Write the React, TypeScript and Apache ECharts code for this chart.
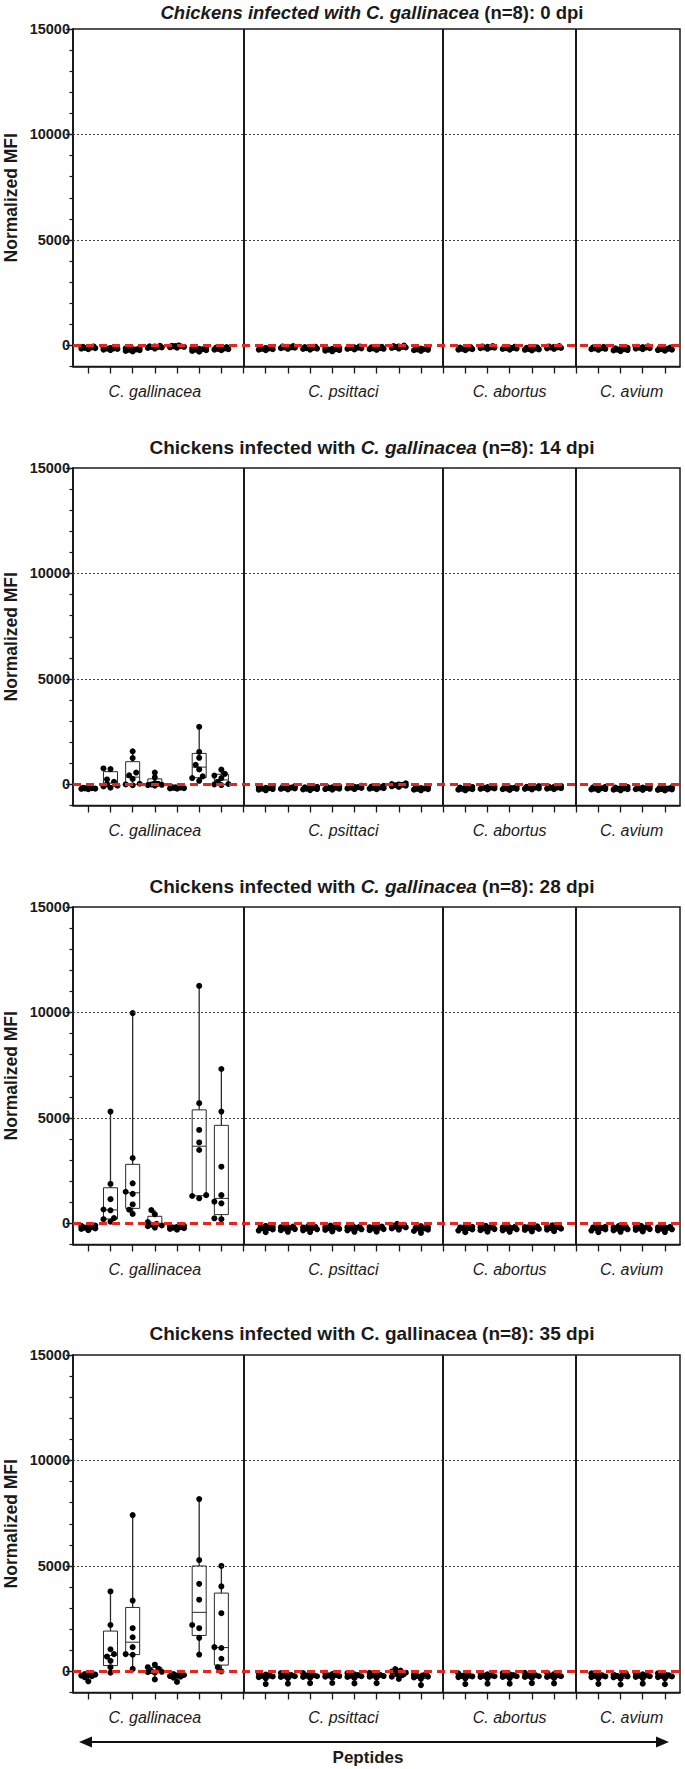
import React, { useEffect, useRef } from "react";
import * as echarts from "echarts";

// ---------------- data ----------------
const GROUP_NAMES = ["C. gallinacea", "C. psittaci", "C. abortus", "C. avium"];
const DPI_VALUES = ["0", "14", "28", "35"];
const TITLE_PREFIX = "Chickens infected with ";
const TITLE_SPECIES = "C. gallinacea";
const TITLE_N = "(n=8)";
const Y_LABEL_VALUES = [0, 5000, 10000, 15000];
const DOTTED_GRID_VALUES = [5000, 10000];
const BASELINE_VALUE = 0;
const Y_MIN = -1000;
const Y_MAX = 15000;
const Y_NAME = "Normalized MFI";
const X_NAME = "Peptides";

// 0 dpi
const dpi0Gallinacea = [
  [-180, -150, -130, -120, -100, -90, -70, -50],
  [-220, -200, -170, -150, -140, -120, -100, -80],
  [-290, -260, -230, -210, -190, -170, -140, -110],
  [-150, -120, -100, -80, -70, -50, -40, -20],
  [-110, -90, -70, -50, -40, -30, -20, 0],
  [-300, -260, -230, -200, -180, -160, -140, -110],
  [-230, -200, -180, -160, -140, -120, -100, -80],
];
const dpi0Psittaci = [
  [-230, -200, -180, -160, -140, -120, -100, -80],
  [-160, -130, -110, -100, -90, -70, -50, -30],
  [-200, -170, -150, -130, -120, -100, -80, -60],
  [-280, -250, -220, -200, -180, -160, -140, -110],
  [-190, -160, -140, -120, -110, -90, -70, -50],
  [-210, -180, -160, -140, -130, -110, -90, -70],
  [-150, -120, -100, -80, -70, -50, -30, -10],
  [-260, -230, -210, -190, -170, -150, -130, -100],
];
const dpi0Abortus = [
  [-230, -200, -180, -160, -140, -120, -100, -80],
  [-160, -130, -110, -100, -90, -70, -50, -30],
  [-200, -170, -150, -130, -120, -100, -80, -60],
  [-240, -210, -190, -170, -150, -130, -110, -90],
  [-170, -140, -120, -100, -90, -70, -50, -30],
];
const dpi0Avium = [
  [-210, -180, -160, -140, -130, -110, -90, -70],
  [-270, -240, -220, -200, -180, -160, -140, -110],
  [-180, -150, -130, -110, -100, -80, -60, -40],
  [-250, -220, -200, -180, -160, -140, -120, -100],
];

// 14 dpi
const dpi14Gallinacea = [
  [-230, -210, -200, -190, -180, -170, -160, -140],
  [-158, -95, -63, 0, 126, 237, 725, 757],
  [-40, 0, 30, 260, 430, 560, 1250, 1570],
  [-60, -30, -20, 0, 30, 60, 330, 560],
  [-200, -190, -180, -160, -150, -140, -130, -110],
  [170, 300, 380, 710, 930, 1260, 1540, 2730],
  [-30, 0, 20, 120, 300, 420, 500, 700],
];
const dpi14Psittaci = [
  [-280, -250, -220, -200, -180, -160, -130, -100],
  [-240, -210, -190, -170, -150, -130, -110, -80],
  [-270, -240, -220, -200, -180, -160, -140, -110],
  [-250, -220, -200, -180, -160, -140, -120, -90],
  [-220, -190, -170, -150, -130, -110, -90, -60],
  [-230, -200, -180, -160, -140, -120, -100, -70],
  [-120, -90, -60, -40, -20, 0, 20, 50],
  [-280, -250, -230, -210, -190, -170, -150, -120],
];
const dpi14Abortus = [
  [-280, -250, -230, -210, -190, -170, -150, -120],
  [-240, -210, -190, -170, -150, -130, -110, -80],
  [-260, -230, -210, -190, -170, -150, -130, -100],
  [-240, -210, -190, -170, -150, -130, -110, -80],
  [-230, -200, -180, -160, -140, -120, -100, -70],
];
const dpi14Avium = [
  [-270, -240, -220, -200, -180, -160, -140, -110],
  [-280, -250, -230, -210, -190, -170, -150, -120],
  [-260, -230, -210, -190, -170, -150, -130, -100],
  [-290, -260, -240, -220, -200, -180, -160, -130],
];

// 28 dpi
const dpi28Gallinacea = [
  [-320, -260, -240, -200, -180, -150, -120, -100],
  [80, 200, 250, 620, 660, 1150, 1870, 5300],
  [450, 650, 900, 1400, 1500, 1900, 3100, 9970],
  [-200, -130, -100, -60, -20, 60, 430, 630],
  [-300, -260, -230, -200, -180, -160, -140, -110],
  [1190, 1300, 1340, 3480, 3840, 4430, 5700, 11260],
  [200, 240, 950, 1030, 1340, 2690, 5300, 7320],
];
const dpi28Psittaci = [
  [-420, -340, -290, -250, -220, -190, -160, -120],
  [-400, -320, -270, -240, -210, -180, -150, -110],
  [-410, -330, -280, -250, -220, -190, -160, -120],
  [-380, -310, -260, -230, -200, -170, -140, -100],
  [-400, -330, -280, -240, -210, -180, -150, -110],
  [-390, -320, -270, -240, -210, -180, -150, -110],
  [-300, -240, -190, -150, -120, -90, -60, -20],
  [-450, -360, -300, -260, -230, -200, -170, -130],
];
const dpi28Abortus = [
  [-420, -340, -290, -250, -220, -190, -160, -120],
  [-390, -320, -270, -240, -210, -180, -150, -110],
  [-400, -330, -280, -250, -220, -190, -160, -120],
  [-380, -310, -260, -230, -200, -170, -140, -100],
  [-370, -300, -250, -220, -190, -160, -130, -90],
];
const dpi28Avium = [
  [-420, -340, -290, -250, -220, -190, -160, -120],
  [-400, -330, -280, -250, -220, -190, -160, -120],
  [-380, -310, -270, -240, -210, -180, -150, -110],
  [-410, -330, -280, -250, -220, -190, -160, -120],
];

// 35 dpi
const dpi35Gallinacea = [
  [-470, -280, -230, -200, -170, -150, -130, -80],
  [-60, 200, 500, 700, 820, 1050, 2200, 3790],
  [120, 790, 820, 1150, 1620, 2050, 3360, 7410],
  [-380, -60, -30, -20, 20, 130, 200, 320],
  [-500, -300, -250, -220, -200, -170, -130, -60],
  [800, 1590, 2050, 2200, 3400, 4150, 5280, 8170],
  [0, 200, 600, 1110, 1150, 2760, 4030, 5000],
];
const dpi35Psittaci = [
  [-600, -330, -270, -240, -210, -180, -150, -90],
  [-580, -320, -260, -230, -200, -170, -140, -80],
  [-560, -310, -260, -230, -200, -170, -140, -80],
  [-550, -300, -250, -220, -190, -160, -130, -70],
  [-570, -310, -260, -230, -200, -170, -140, -80],
  [-560, -300, -250, -220, -190, -160, -130, -70],
  [-360, -250, -180, -120, -60, -10, 40, 110],
  [-650, -350, -290, -250, -220, -190, -160, -100],
];
const dpi35Abortus = [
  [-600, -330, -270, -240, -210, -180, -150, -90],
  [-580, -320, -260, -230, -200, -170, -140, -80],
  [-580, -320, -260, -230, -200, -170, -140, -80],
  [-560, -310, -260, -230, -200, -170, -140, -70],
  [-570, -310, -260, -230, -200, -170, -130, -60],
];
const dpi35Avium = [
  [-590, -330, -270, -240, -210, -180, -150, -90],
  [-620, -340, -280, -240, -210, -180, -150, -90],
  [-580, -320, -260, -230, -200, -170, -140, -80],
  [-610, -330, -270, -240, -210, -180, -150, -90],
];

const PANELS = [
  [dpi0Gallinacea, dpi0Psittaci, dpi0Abortus, dpi0Avium],
  [dpi14Gallinacea, dpi14Psittaci, dpi14Abortus, dpi14Avium],
  [dpi28Gallinacea, dpi28Psittaci, dpi28Abortus, dpi28Avium],
  [dpi35Gallinacea, dpi35Psittaci, dpi35Abortus, dpi35Avium],
];

// ---------------- layout / style ----------------
const FONT = "'Liberation Sans', Arial, Helvetica, sans-serif";
const INK = "#1a1a1a";
const PLOT_LEFT = 73;
const PLOT_RIGHT = 680;
const PANEL_TOPS = [29, 468, 907, 1355];
const PLOT_H = 337.5;
const X_MIN = 0.31;
const X_MAX = 27.68;
const TITLE_Y = [12, 447, 886, 1333.5];
const TITLE_X = 372;
// title italic style per panel: 0 = prefix+species italic, 1 = species italic, 2 = none
const TITLE_ITALIC_MODE = [0, 1, 1, 2];
const TITLE_SIZES = [18.5, 19, 19, 19];
const Y_NAME_X = 11;

const PX_PER_X = (PLOT_RIGHT - PLOT_LEFT) / (X_MAX - X_MIN);
const PX_PER_Y = PLOT_H / (Y_MAX - Y_MIN);

function quantile(sorted: number[], p: number) {
  const n = sorted.length;
  const h = (n + 1) * p;
  const lo = Math.floor(h);
  const f = h - lo;
  if (lo < 1) return sorted[0];
  if (lo >= n) return sorted[n - 1];
  return sorted[lo - 1] + f * (sorted[lo] - sorted[lo - 1]);
}

function swarmOffsets(values: number[]): number[] {
  const order = values.map((_, i) => i).sort((a, b) => values[a] - values[b]);
  const cands = [0, -3.5, 3.5, -7, 7, -1.75, 1.75, -5.25, 5.25];
  const placed: { x: number; y: number }[] = [];
  const out = new Array(values.length).fill(0);
  for (const idx of order) {
    const y = values[idx] * PX_PER_Y;
    let best = 0;
    let bestD = -1;
    for (const c of cands) {
      let d = Infinity;
      for (const p of placed) d = Math.min(d, Math.hypot(p.x - c, p.y - y));
      if (d >= 4.8) {
        best = c;
        bestD = d;
        break;
      }
      if (d > bestD) {
        bestD = d;
        best = c;
      }
    }
    placed.push({ x: best, y });
    out[idx] = best;
  }
  return out;
}

function buildOption() {
  // peptide positions: groups separated by one empty slot
  const positions: number[][] = [];
  const separators: number[] = [];
  let pos = 1;
  PANELS[0].forEach((g, gi) => {
    positions.push(g.map(() => pos++));
    if (gi < PANELS[0].length - 1) separators.push(pos);
    pos++;
  });
  const tickValues: number[] = [];
  for (let i = 1; i < pos - 1; i++) tickValues.push(i);
  const centers = positions.map((p) => (p[0] + p[p.length - 1]) / 2);

  const grid: any[] = [];
  const xAxis: any[] = [];
  const yAxis: any[] = [];
  const series: any[] = [];
  const graphic: any[] = [];

  PANELS.forEach((panel, k) => {
    grid.push({
      left: PLOT_LEFT,
      top: PANEL_TOPS[k],
      width: PLOT_RIGHT - PLOT_LEFT,
      height: PLOT_H,
      show: true,
      borderColor: INK,
      borderWidth: 1.5,
      backgroundColor: "transparent",
    });
    xAxis.push({
      type: "value",
      gridIndex: k,
      min: X_MIN,
      max: X_MAX,
      axisLine: { show: true, onZero: false, lineStyle: { color: INK, width: 1.5 } },
      axisTick: { show: true, customValues: tickValues, length: 7, lineStyle: { color: INK, width: 1.3 } },
      axisLabel: {
        customValues: centers,
        formatter: (v: number) => {
          const i = centers.findIndex((c) => Math.abs(c - v) < 0.01);
          return i >= 0 ? GROUP_NAMES[i] : "";
        },
        margin: 17,
        fontFamily: FONT,
        fontSize: 16,
        fontStyle: "italic",
        color: INK,
      },
      splitLine: { show: false },
    });
    // minor ticks axis
    yAxis.push({
      type: "value",
      gridIndex: k,
      min: Y_MIN,
      max: Y_MAX,
      interval: 1000,
      position: "left",
      axisLine: { show: true, onZero: false, lineStyle: { color: INK, width: 1.5 } },
      axisTick: { show: true, length: 3.5, lineStyle: { color: INK, width: 1.2 } },
      axisLabel: { show: false },
      splitLine: { show: false },
    });
    // major ticks + labels axis
    yAxis.push({
      type: "value",
      gridIndex: k,
      min: Y_MIN,
      max: Y_MAX,
      position: "left",
      axisLine: { show: true, onZero: false, lineStyle: { color: INK, width: 1.5 } },
      axisTick: { show: true, customValues: Y_LABEL_VALUES, length: 7, lineStyle: { color: INK, width: 1.3 } },
      axisLabel: {
        customValues: Y_LABEL_VALUES,
        formatter: (v: number) => String(v),
        margin: 3,
        fontFamily: FONT,
        fontSize: 14.5,
        fontWeight: "bold",
        color: INK,
      },
      splitLine: { show: false },
    });

    const boxes: number[][] = [];
    const points: number[][] = [];
    panel.forEach((group, gi) => {
      group.forEach((vals, pi) => {
        const x = positions[gi][pi];
        const s = [...vals].sort((a, b) => a - b);
        boxes.push([x, s[0], quantile(s, 0.25), quantile(s, 0.5), quantile(s, 0.75), s[s.length - 1]]);
        const offs = swarmOffsets(vals);
        vals.forEach((v, i) => points.push([x + offs[i] / PX_PER_X, v]));
      });
    });

    const markData: any[] = [
      ...DOTTED_GRID_VALUES.map((v) => ({
        yAxis: v,
        lineStyle: { color: "#444", width: 1, type: [2, 2] },
      })),
      ...separators.map((v) => ({
        xAxis: v,
        lineStyle: { color: INK, width: 2, type: "solid" },
      })),
    ];

    series.push({
      type: "custom",
      xAxisIndex: k,
      yAxisIndex: 2 * k + 1,
      z: 2,
      data: boxes,
      encode: { x: 0, y: [1, 2, 3, 4, 5] },
      renderItem: (_p: any, api: any) => {
        const x = api.value(0);
        const pMin = api.coord([x, api.value(1)]);
        const pQ1 = api.coord([x, api.value(2)]);
        const pMed = api.coord([x, api.value(3)]);
        const pQ3 = api.coord([x, api.value(4)]);
        const pMax = api.coord([x, api.value(5)]);
        const half = 7;
        const stroke = "#2a2a2a";
        return {
          type: "group",
          children: [
            { type: "line", shape: { x1: pMin[0], y1: pMin[1], x2: pQ1[0], y2: pQ1[1] }, style: { stroke, lineWidth: 1.3 } },
            { type: "line", shape: { x1: pQ3[0], y1: pQ3[1], x2: pMax[0], y2: pMax[1] }, style: { stroke, lineWidth: 1.3 } },
            {
              type: "rect",
              shape: { x: pQ1[0] - half, y: pQ3[1], width: 2 * half, height: Math.max(0.5, pQ1[1] - pQ3[1]) },
              style: { fill: "none", stroke, lineWidth: 1 },
            },
            { type: "line", shape: { x1: pMed[0] - half, y1: pMed[1], x2: pMed[0] + half, y2: pMed[1] }, style: { stroke, lineWidth: 1 } },
          ],
        };
      },
      markLine: {
        silent: true,
        symbol: ["none", "none"],
        label: { show: false },
        animation: false,
        data: markData,
      },
    });
    series.push({
      type: "scatter",
      xAxisIndex: k,
      yAxisIndex: 2 * k + 1,
      z: 4,
      symbol: "circle",
      symbolSize: 6,
      itemStyle: { color: "#000", opacity: 1 },
      data: points,
      markLine: {
        silent: true,
        symbol: ["none", "none"],
        label: { show: false },
        animation: false,
        data: [{ yAxis: BASELINE_VALUE, lineStyle: { color: "#e8251c", width: 3, type: [8, 5] } }],
      },
    });

    // title
    const mode = TITLE_ITALIC_MODE[k];
    const rest = ` ${TITLE_N}: ${DPI_VALUES[k]} dpi`;
    let text = "";
    if (mode === 0) text = `{bi|${TITLE_PREFIX}${TITLE_SPECIES}}{b|${rest}}`;
    else if (mode === 1) text = `{b|${TITLE_PREFIX}}{bi|${TITLE_SPECIES}}{b|${rest}}`;
    else text = `{b|${TITLE_PREFIX}${TITLE_SPECIES}${rest}}`;
    const fs = TITLE_SIZES[k];
    graphic.push({
      type: "text",
      x: TITLE_X,
      y: TITLE_Y[k],
      style: {
        text,
        textAlign: "center",
        textVerticalAlign: "middle",
        rich: {
          b: { fontFamily: FONT, fontSize: fs, fontWeight: "bold", fill: INK },
          bi: { fontFamily: FONT, fontSize: fs, fontWeight: "bold", fontStyle: "italic", fill: INK },
        },
      },
    });
    // y-axis name
    graphic.push({
      type: "text",
      x: Y_NAME_X,
      y: PANEL_TOPS[k] + PLOT_H / 2,
      rotation: Math.PI / 2,
      style: {
        text: Y_NAME,
        textAlign: "center",
        textVerticalAlign: "middle",
        fontFamily: FONT,
        fontSize: 17.5,
        fontWeight: "bold",
        fill: INK,
      },
    });
  });

  // bottom arrow + x name
  const ay = 1742;
  graphic.push(
    { type: "line", shape: { x1: 88, y1: ay, x2: 660, y2: ay }, style: { stroke: "#111", lineWidth: 2 } },
    { type: "polygon", shape: { points: [[79, ay], [92, ay - 5.5], [92, ay + 5.5]] }, style: { fill: "#111" } },
    { type: "polygon", shape: { points: [[669, ay], [656, ay - 5.5], [656, ay + 5.5]] }, style: { fill: "#111" } },
    {
      type: "text",
      x: 368,
      y: 1757,
      style: {
        text: X_NAME,
        textAlign: "center",
        textVerticalAlign: "middle",
        fontFamily: FONT,
        fontSize: 17,
        fontWeight: "bold",
        fill: INK,
      },
    }
  );

  return {
    animation: false,
    backgroundColor: "#ffffff",
    grid,
    xAxis,
    yAxis,
    series,
    graphic,
  };
}

export default function App() {
  const ref = useRef<HTMLDivElement>(null);
  useEffect(() => {
    document.body.style.margin = "0";
    const chart = echarts.init(ref.current!, null, { renderer: "svg" });
    chart.setOption(buildOption() as any);
    return () => chart.dispose();
  }, []);
  return <div ref={ref} style={{ width: 685, height: 1769 }} />;
}
